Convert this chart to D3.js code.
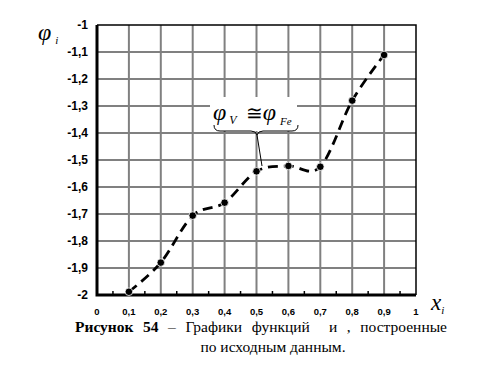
<!DOCTYPE html>
<html><head><meta charset="utf-8">
<script src="https://cdn.jsdelivr.net/npm/d3@7"></script>
<style>body{margin:0;background:#fff}svg{display:block}</style>
</head><body>
<script>
const xValues = [0.1,0.2,0.3,0.4,0.5,0.6,0.7,0.8,0.9];
const phiValues = [-1.988,-1.88,-1.706,-1.658,-1.542,-1.522,-1.525,-1.28,-1.111];
const xTicks = [0,0.1,0.2,0.3,0.4,0.5,0.6,0.7,0.8,0.9,1];
const yTicks = [-1,-1.1,-1.2,-1.3,-1.4,-1.5,-1.6,-1.7,-1.8,-1.9,-2];
const fmt = v => String(Math.round(v*10)/10).replace('.', ',');
const SER='"Liberation Serif"', SANS='"Liberation Sans"';

const W=479,H=381;
const svg=d3.select('body').append('svg').attr('width',W).attr('height',H);
const x=d3.scaleLinear().domain([0,1]).range([97,416]);
const y=d3.scaleLinear().domain([-2,-1]).range([295,25]);

const g=svg.append('g');
g.selectAll('.vg').data(xTicks.slice(1,-1)).join('line')
 .attr('x1',d=>x(d)).attr('x2',d=>x(d)).attr('y1',y(-1)).attr('y2',y(-2))
 .attr('stroke','#808080').attr('stroke-width',2);
g.selectAll('.hg').data(yTicks.slice(1,-1)).join('line')
 .attr('x1',x(0)).attr('x2',x(1)).attr('y1',d=>y(d)).attr('y2',d=>y(d))
 .attr('stroke','#808080').attr('stroke-width',2);
svg.append('path').attr('d',`M${x(0)},${y(-1)}H${x(1)}V${y(-2)}`).attr('fill','none').attr('stroke','#000').attr('stroke-width',1.5);
const minor=d3.range(0.05,1,0.1);
svg.selectAll('.mt').data(minor).join('line')
 .attr('x1',d=>x(d)).attr('x2',d=>x(d)).attr('y1',y(-2)).attr('y2',y(-2)-4)
 .attr('stroke','#000').attr('stroke-width',1.5);
svg.append('path').attr('d',`M${x(0)},${y(-1)}V${y(-2)}H${x(1)}`).attr('fill','none').attr('stroke','#000').attr('stroke-width',3);

svg.selectAll('.yl').data(yTicks).join('text').style('font-family',SANS)
 .attr('x',88).attr('y',d=>y(d)+4).attr('text-anchor','end')
 .attr('font-weight','bold').attr('font-size',12)
 .text(fmt);
svg.selectAll('.xl').data(xTicks).join('text').style('font-family',SANS)
 .attr('x',d=>x(d)).attr('y',315).attr('text-anchor','middle')
 .attr('font-weight','bold').attr('font-size',9.5)
 .text(fmt);

const t1=svg.append('text').style('font-family',SER).attr('x',38).attr('y',40).attr('font-style','italic').attr('font-size',24);
t1.append('tspan').text('φ');
t1.append('tspan').attr('dx',4).attr('dy',4).attr('font-size',11).text('i');
const t2=svg.append('text').style('font-family',SER).attr('x',431).attr('y',310).attr('font-style','italic').attr('font-size',23);
t2.append('tspan').text('x');
t2.append('tspan').attr('dy',4).attr('font-size',11).text('i');

const line=d3.line().x((d,i)=>x(xValues[i])).y(d=>y(d)).curve(d3.curveCatmullRom.alpha(0));
svg.append('path').attr('d',line(phiValues)).attr('fill','none').attr('stroke','#000')
 .attr('stroke-width',2.8).attr('stroke-dasharray','10,6');
svg.selectAll('.pt').data(phiValues).join('circle')
 .attr('cx',(d,i)=>x(xValues[i])).attr('cy',d=>y(d)).attr('r',3.8)
 .attr('fill','#000').attr('stroke','#fff').attr('stroke-width',0.8);

svg.append('rect').attr('x',210).attr('y',97).attr('width',87).attr('height',34).attr('fill','#fff');
const lb=svg.append('text').style('font-family',SER).attr('x',213).attr('y',120).attr('font-style','italic').attr('font-size',24);
lb.append('tspan').text('φ');
lb.append('tspan').attr('dx',3).attr('dy',4).attr('font-size',12).text('V');
lb.append('tspan').attr('dx',9).attr('dy',-4).attr('font-style','normal').attr('font-size',20).text('≅');
lb.append('tspan').attr('dx',0).text('φ');
lb.append('tspan').attr('dx',4).attr('dy',5).attr('font-size',11).text('Fe');
svg.append('path').attr('d','M214,125 Q214,131 220,131 L251,131 Q256,131 257,135 Q258,131 263,131 L292,131 Q298,131 298,125')
 .attr('fill','none').attr('stroke','#000').attr('stroke-width',1);
svg.append('line').attr('x1',257).attr('y1',135).attr('x2',262).attr('y2',166).attr('stroke','#000').attr('stroke-width',1);

const c1=svg.append('text').style('font-family',SER).attr('x',75).attr('y',332).attr('font-size',15.5).style('white-space','pre');
c1.append('tspan').attr('font-weight','bold').text('Рисунок 54');
c1.append('tspan').text(' – Графики функций  и , построенные');
const nat=c1.node().getComputedTextLength();
c1.style('word-spacing',Math.max(0,(372-nat)/8)+'px');
const c2=svg.append('text').style('font-family',SER).attr('x',273).attr('y',352).attr('font-size',15.5)
 .attr('text-anchor','middle').text('по исходным данным.');
</script>
</body></html>
